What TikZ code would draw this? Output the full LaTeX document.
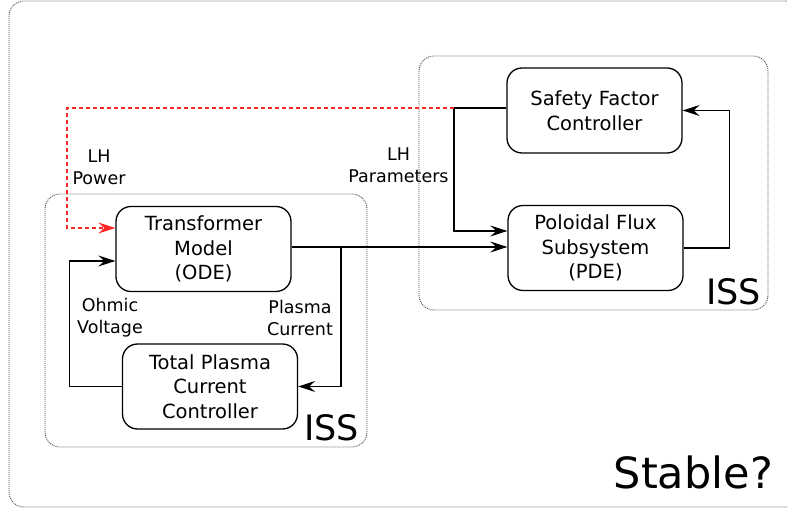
\documentclass[tikz,border=0pt]{standalone}
\usepackage{fontspec}
\setmainfont{DejaVu Sans}
\usetikzlibrary{arrows.meta}

\tikzset{
  block/.style={draw, line width=1.3pt, rounded corners=15pt, minimum width=175pt,
    minimum height=85pt, align=center, inner sep=0pt,
    font=\fontsize{19.5}{24.5}\selectfont},
  sig/.style={line width=1.2pt, -{Stealth[length=17pt,width=11pt,inset=6pt]}},
  frame/.style={draw=black!70, line width=0.9pt, dash pattern=on 1pt off 1pt, rounded corners=15pt},
  siglabel/.style={align=center, inner sep=0pt, font=\fontsize{17.5}{22}\selectfont},
}

\begin{document}
\begin{tikzpicture}[x=1pt, y=-1pt]
            \useasboundingbox (0,0) rectangle (787,510);
            
            % Drawing frames
            \draw [frame] (9,1) rectangle (800,507);%
            \draw [frame] (45,194) rectangle (367,447);%
            \draw [frame] (419,56) rectangle (768,310);%
            
            % Drawing blocks
            \node [block] (tm) at (203.5,249) {Transformer\\Model\\(ODE)};%
            \node [block] (tp) at (210,386.5) {Total Plasma\\Current\\Controller};%
            \node [block] (sf) at (594.5,110.5) {Safety Factor\\Controller};%
            \node [block] (pf) at (595.5,248) {Poloidal Flux\\Subsystem\\(PDE)};%
            
            % Drawing junctions
            \coordinate (br) at (341,247);%
            \coordinate (lhj) at (454,108);%
            
            % Drawing signals
            \draw [sig] (tm.east |- br) -- (pf.west |- br);%
            \draw [sig] (br) |- (tp.east);%
            \draw [sig] (tp.west) -- ++(-52,0) |- ([yshift=-12pt]tm.west);%
            \draw [sig] (sf.west |- lhj) -- (lhj) |- ([yshift=17pt]pf.west);%
            \draw [sig] (pf.east) -- ++(46,0) |- (sf.east);%
            \draw [sig, color=red!85, dash pattern=on 4pt off 3pt] (lhj) -- ++(-387,0) |- ([yshift=21pt]tm.west);%
            
            % Marking signal names
            \node [siglabel] (lhpow) at (99,167) {LH\\Power};%
            \node [siglabel] (lhpar) at (398.5,165) {LH\\Parameters};%
            \node [siglabel] (ohm) at (110,318) {Ohmic\\Voltage};%
            \node [siglabel] (ip) at (300,318) {Plasma\\Current};%
            
            % Marking stability claims
            \node [anchor=base east, inner sep=0pt, font=\fontsize{35}{40}\selectfont] (issl) at (359,440) {ISS};%
            \node [anchor=base east, inner sep=0pt, font=\fontsize{35}{40}\selectfont] (issr) at (761,305) {ISS};%
            \node [anchor=base east, inner sep=0pt, font=\fontsize{43}{48}\selectfont] (stab) at (773,488) {Stable?};%
        \end{tikzpicture}
\end{document}
